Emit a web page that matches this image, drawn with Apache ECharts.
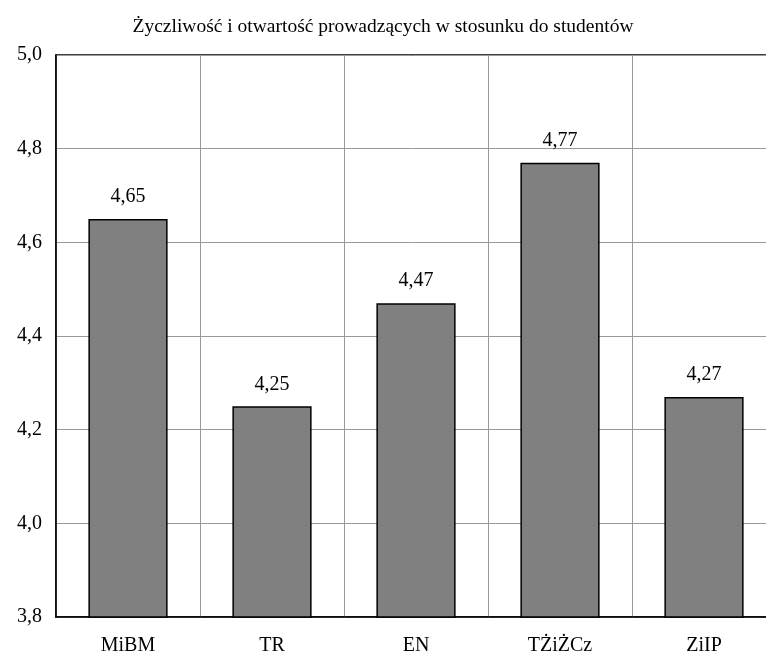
<!DOCTYPE html>
<html>
<head>
<meta charset="utf-8">
<script src="https://cdn.jsdelivr.net/npm/echarts@6/dist/echarts.min.js"></script>
<style>
    html, body { margin: 0; padding: 0; background: #fff; }
    #chart { width: 766px; height: 659px; }
</style>
</head>
<body>
<div id="chart"></div>
<script>
// dane wykresu
const chartTitle = 'Życzliwość i otwartość prowadzących w stosunku do studentów';
const categories = ['MiBM', 'TR', 'EN', 'TŻiŻCz', 'ZiIP'];
const values = [4.65, 4.25, 4.47, 4.77, 4.27];

const fontFamily = '"Liberation Serif", "DejaVu Serif", serif';

const chart = echarts.init(document.getElementById('chart'));

const option = {
    backgroundColor: '#fff',
    animation: false,
    title: {
        text: chartTitle,
        left: 'center',
        top: 12,
        textStyle: { fontFamily: fontFamily, fontSize: 19.5, fontWeight: 'normal', color: '#000' }
    },
    grid: {
        show: true,
        left: 56, top: 55, right: -10, bottom: 42,
        outerBoundsMode: 'none',
        containLabel: false,
        borderColor: '#000', borderWidth: 1.5,
        backgroundColor: 'transparent'
    },
    xAxis: {
        type: 'category',
        data: categories,
        axisLine: { lineStyle: { color: '#000', width: 1.5 } },
        axisTick: { show: false },
        axisLabel: { fontFamily: fontFamily, fontSize: 20, color: '#000', margin: 19 },
        splitLine: { show: true, lineStyle: { color: '#999', width: 1 } }
    },
    yAxis: {
        type: 'value',
        min: 3.8, max: 5.0, interval: 0.2,
        axisLine: { show: true, lineStyle: { color: '#000', width: 1.5 } },
        axisTick: { show: false },
        axisLabel: {
            fontFamily: fontFamily, fontSize: 20, color: '#000', margin: 14,
            formatter: v => v.toFixed(1).replace('.', ',')
        },
        splitLine: { show: true, lineStyle: { color: '#999', width: 1 } }
    },
    series: [{
        type: 'bar',
        data: values,
        barWidth: '55%',
        itemStyle: { color: '#808080', borderColor: '#000', borderWidth: 1.5 },
        label: {
            show: true,
            position: 'top',
            distance: 12,
            fontFamily: fontFamily,
            fontSize: 20,
            color: '#000',
            formatter: p => p.value.toFixed(2).replace('.', ',')
        }
    }]
};
chart.setOption(option);
</script>
</body>
</html>
